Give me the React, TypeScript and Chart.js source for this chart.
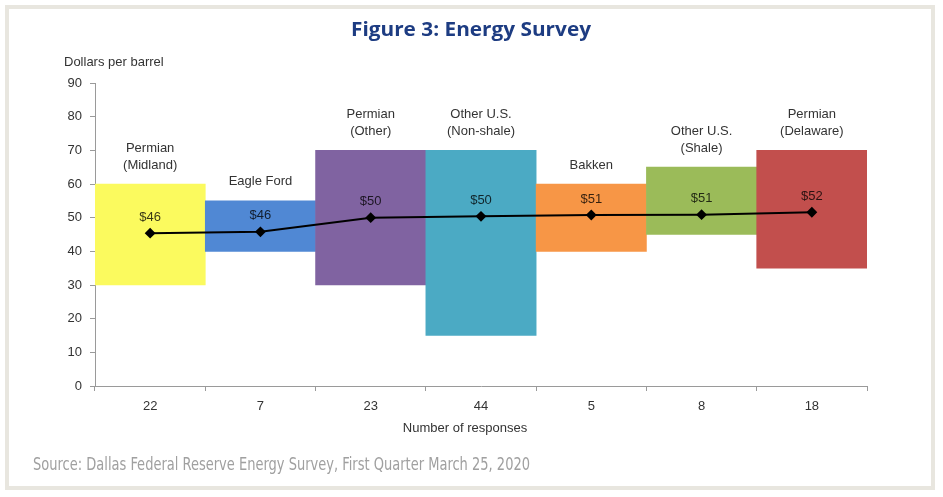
import React, { useEffect, useRef } from "react";
import { Chart, registerables } from "chart.js";
Chart.register(...registerables);

const chartTitle = "Figure 3: Energy Survey";
const yCaption = "Dollars per barrel";
const xCaption = "Number of responses";
const sourceNote = "Source: Dallas Federal Reserve Energy Survey, First Quarter March 25, 2020";

const regionNames: string[][] = [
  ["Permian", "(Midland)"],
  ["Eagle Ford"],
  ["Permian", "(Other)"],
  ["Other U.S.", "(Non-shale)"],
  ["Bakken"],
  ["Other U.S.", "(Shale)"],
  ["Permian", "(Delaware)"],
];
const responseCounts = ["22", "7", "23", "44", "5", "8", "18"];
const rangeLow = [30, 40, 30, 15, 40, 45, 35];
const rangeHigh = [60, 55, 70, 70, 60, 65, 70];
const averagePrice = [45.4, 45.8, 50.0, 50.4, 50.8, 50.9, 51.6];
const averageLabels = ["$46", "$46", "$50", "$50", "$51", "$51", "$52"];
const barColors = ["#FBFA5E", "#5088D4", "#8063A1", "#4BAAC4", "#F79646", "#9BBB59", "#C24F4D"];
const yMin = 0;
const yMax = 90;
const yStep = 10;

const W = 943;
const H = 497;
const FONT = "'Liberation Sans', Arial, sans-serif";

function fitText(ctx: CanvasRenderingContext2D, text: string, x: number, y: number, width: number, align: "left" | "center") {
  const w = ctx.measureText(text).width;
  ctx.save();
  ctx.textAlign = "left";
  const left = align === "center" ? x - width / 2 : x;
  ctx.translate(left, y);
  ctx.scale(width / w, 1);
  ctx.fillText(text, 0, 0);
  ctx.restore();
}

const decorPlugin = {
  id: "decor",
  beforeDraw(chart: any) {
    const ctx = chart.ctx;
    ctx.save();
    ctx.fillStyle = "#ffffff";
    ctx.fillRect(0, 0, W, H);
    ctx.strokeStyle = "#e8e6df";
    ctx.lineWidth = 4;
    ctx.strokeRect(7, 7, 926, 481);
    ctx.restore();
  },
  afterDraw(chart: any) {
    const ctx = chart.ctx;
    const area = chart.chartArea;
    ctx.save();
    // title
    ctx.fillStyle = "#1d3c82";
    ctx.font = "bold 19px 'Open Sans', Lato, sans-serif";
    ctx.textBaseline = "alphabetic";
    fitText(ctx, chartTitle, 471, 36, 240, "center");

    // y caption
    ctx.fillStyle = "#333333";
    ctx.font = "13px " + FONT;
    ctx.textAlign = "left";
    ctx.textBaseline = "middle";
    ctx.fillText(yCaption, 64, 62);

    // x caption
    ctx.textAlign = "center";
    ctx.fillText(xCaption, (area.left + area.right) / 2 - 16, 428);

    // source
    ctx.fillStyle = "#a0a0a0";
    ctx.font = "17px 'Liberation Sans Narrow', 'DejaVu Sans Condensed', sans-serif";
    ctx.textBaseline = "alphabetic";
    fitText(ctx, sourceNote, 33, 470, 497, "left");
    ctx.restore();

    // region labels above bars
    ctx.save();
    const barMeta = chart.getDatasetMeta(1);
    ctx.fillStyle = "#333333";
    ctx.font = "13px " + FONT;
    ctx.textAlign = "center";
    ctx.textBaseline = "middle";
    barMeta.data.forEach((el: any, i: number) => {
      const top = Math.min(el.y, el.base);
      const lines = regionNames[i];
      const lastY = top - 19;
      lines.forEach((ln, j) => {
        ctx.fillText(ln, el.x, lastY - (lines.length - 1 - j) * 17);
      });
    });
    // value labels
    const lineMeta = chart.getDatasetMeta(0);
    ctx.fillStyle = "rgba(0,0,0,0.78)";
    lineMeta.data.forEach((pt: any, i: number) => {
      ctx.fillText(averageLabels[i], pt.x, pt.y - 16);
    });
    ctx.restore();
  },
};

export default function App() {
  const ref = useRef<HTMLCanvasElement | null>(null);
  useEffect(() => {
    if (!ref.current) return;
    const chart = new Chart(ref.current, {
      type: "bar",
      data: {
        labels: responseCounts,
        datasets: [
          {
            type: "line",
            label: "Average",
            data: averagePrice,
            borderColor: "#000000",
            backgroundColor: "#000000",
            borderWidth: 2,
            pointStyle: "rectRot",
            pointRadius: 4,
            pointBackgroundColor: "#000000",
            pointBorderColor: "#000000",
            tension: 0,
            order: 0,
          } as any,
          {
            type: "bar",
            label: "Range",
            data: rangeLow.map((lo, i) => [lo, rangeHigh[i]]),
            backgroundColor: barColors,
            borderWidth: 0,
            barPercentage: 1,
            categoryPercentage: 1,
            order: 1,
          } as any,
        ],
      },
      options: {
        responsive: false,
        maintainAspectRatio: false,
        animation: false,
        devicePixelRatio: 1,
        layout: { padding: { left: 0, right: 76, top: 83, bottom: 0 } },
        plugins: {
          legend: { display: false },
          title: { display: false },
          tooltip: { enabled: false },
        },
        scales: {
          x: {
            offset: true,
            grid: {
              display: true,
              drawOnChartArea: false,
              drawTicks: true,
              tickLength: 5,
              color: "#9a9a9a",
              offset: true,
            },
            border: { display: true, color: "#9a9a9a", width: 1 },
            ticks: {
              color: "#333333",
              font: { family: FONT, size: 13 },
              padding: 8,
              maxRotation: 0,
            },
            afterFit(scale: any) {
              scale.height = 111;
            },
          },
          y: {
            min: yMin,
            max: yMax,
            grid: {
              display: true,
              drawOnChartArea: false,
              drawTicks: true,
              tickLength: 5,
              color: "#9a9a9a",
            },
            border: { display: true, color: "#9a9a9a", width: 1 },
            ticks: {
              stepSize: yStep,
              color: "#333333",
              font: { family: FONT, size: 13 },
              padding: 8,
            },
            afterFit(scale: any) {
              scale.width = 95;
            },
          },
        },
      },
      plugins: [decorPlugin],
    });
    return () => chart.destroy();
  }, []);
  return (
    <div style={{ position: "fixed", left: 0, top: 0, width: W, height: H, background: "#fff" }}>
      <canvas ref={ref} width={W} height={H} style={{ width: W, height: H, display: "block" }} />
    </div>
  );
}
